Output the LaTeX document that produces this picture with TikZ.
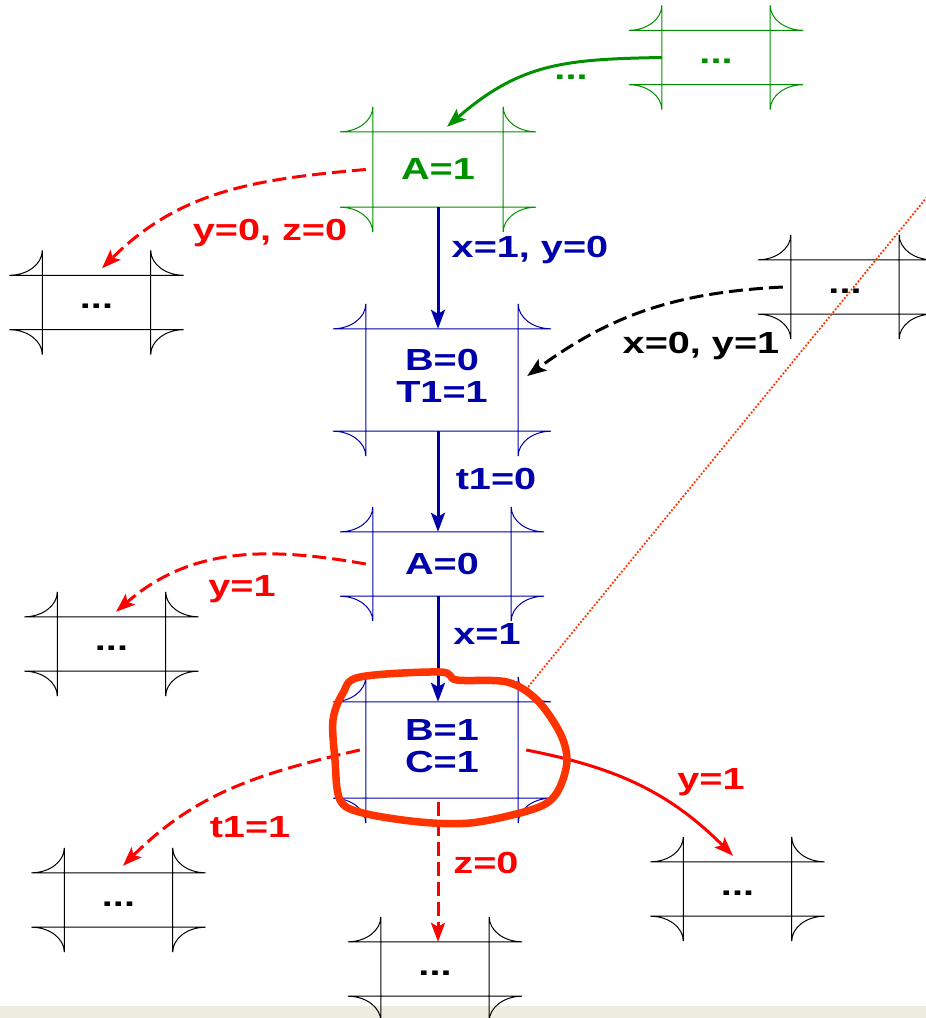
\documentclass[tikz,border=0pt]{standalone}
\usepackage{fontspec}
\setmainfont{Liberation Sans}
\usepackage{graphicx}
\usetikzlibrary{arrows.meta}
\definecolor{dgreen}{RGB}{0,145,0}
\definecolor{dblue}{RGB}{0,0,170}
\definecolor{dred}{RGB}{255,0,0}
\definecolor{ored}{RGB}{255,51,0}
\definecolor{bandcol}{RGB}{238,236,225}
\newcommand\hstretch[1]{\scalebox{1.3}[1]{#1}}
\newcommand\labfont{\fontsize{30.5}{32}\selectfont\bfseries}
\def\ex{33pt}\def\ey{25pt}\def\exc{14.8pt}\def\eyc{11.2pt}
\newcommand\cellframe[2]{%
  \draw[cellline,#2]
    ([xshift=-\ex]#1.north west) -- ([xshift=\ex]#1.north east)
    ([xshift=-\ex]#1.south west) -- ([xshift=\ex]#1.south east)
    ([yshift=\ey]#1.north west) -- ([yshift=-\ey]#1.south west)
    ([yshift=\ey]#1.north east) -- ([yshift=-\ey]#1.south east)
    ([xshift=-\ex]#1.north west) .. controls ([xshift=-\exc]#1.north west) and ([yshift=\eyc]#1.north west) .. ([yshift=\ey]#1.north west)
    ([xshift=\ex]#1.north east) .. controls ([xshift=\exc]#1.north east) and ([yshift=\eyc]#1.north east) .. ([yshift=\ey]#1.north east)
    ([xshift=-\ex]#1.south west) .. controls ([xshift=-\exc]#1.south west) and ([yshift=-\eyc]#1.south west) .. ([yshift=-\ey]#1.south west)
    ([xshift=\ex]#1.south east) .. controls ([xshift=\exc]#1.south east) and ([yshift=-\eyc]#1.south east) .. ([yshift=-\ey]#1.south east);
}
\begin{document}
\begin{tikzpicture}[x=1pt,y=1pt,
  cell/.style={rectangle,inner sep=0pt,font=\labfont},
  small/.style={cell,minimum width=108pt,minimum height=54pt},
  cellline/.style={line width=1pt},
  conn/.style={line width=3pt,-{Stealth[length=19pt,width=14pt,inset=4pt]}},
  dconn/.style={conn,dash pattern=on 14pt off 6pt},
  lbl/.style={inner sep=0pt,font=\labfont,text height=22pt,text depth=0pt},
  dots/.style={inner sep=0pt,font=\labfont}]
\useasboundingbox (0,0) rectangle (926,-1018);
\clip (0,0) rectangle (926,-1018);
\fill[white] (0,0) rectangle (926,-1018);
\fill[bandcol] (0,-1006) rectangle (926,-1018);
\coordinate (axis) at (438,0);

% boxes
\node[cell,minimum width=130pt,minimum height=75pt,text=dgreen] (A1) at (438,-169.5) {\hstretch{A=1}};
\node[small,text=dgreen] (G) at (716,-57.5) {\hstretch{\strut...}};
\node[small] (L1) at (96.5,-302.5) {\hstretch{\strut...}};
\node[cell,minimum width=152pt,minimum height=102pt,text=dblue] (B0) at (442,-380) {\hstretch{\begin{tabular}{@{}c@{}}B=0\\T1=1\end{tabular}}};
\node[small] (R1) at (845,-287) {\hstretch{\strut...}};
\node[cell,minimum width=138pt,minimum height=64pt,text=dblue] (A0) at (442,-564) {\hstretch{A=0}};
\node[small] (L2) at (111.5,-644) {\hstretch{\strut...}};
\node[cell,minimum width=152pt,minimum height=96pt,text=dblue] (B1) at (442,-750) {\hstretch{\begin{tabular}{@{}c@{}}B=1\\C=1\end{tabular}}};
\node[small] (L3) at (118.5,-900) {\hstretch{\strut...}};
\node[small] (Rb) at (737.5,-889) {\hstretch{\strut...}};
\node[small] (Bt) at (435,-969) {\hstretch{\strut...}};

\cellframe{A1}{dgreen}
\cellframe{G}{dgreen}
\cellframe{L1}{black}
\cellframe{B0}{dblue}
\cellframe{R1}{black}
\cellframe{A0}{dblue}
\cellframe{L2}{black}
\cellframe{B1}{dblue}
\cellframe{L3}{black}
\cellframe{Rb}{black}
\cellframe{Bt}{black}

% connectors
\draw[conn,dgreen] (G.west) to[out=181,in=41,looseness=1.1] ([xshift=9pt,yshift=5pt]A1.north);
\draw[dconn,dred] ([xshift=-7pt]A1.west) to[out=185,in=45] ([xshift=5.5pt,yshift=7pt]L1.north);
\draw[conn,dblue] (A1.south -| axis) -- (B0.north -| axis);
\draw[dconn,black] ([xshift=-8pt]R1.west) to[out=183,in=36] ([xshift=9pt,yshift=4pt]B0.east);
\draw[conn,dblue] (B0.south -| axis) -- (A0.north -| axis);
\draw[dconn,dred] ([xshift=-7pt]A0.west) to[out=170,in=41] ([xshift=4.5pt,yshift=5pt]L2.north);
\draw[conn,dblue] (A0.south -| axis) -- (B1.north -| axis);
\draw[dconn,dred] ([xshift=-6pt]B1.west) to[out=193,in=45] ([xshift=4.5pt,yshift=7pt]L3.north);
\draw[conn,dred] ([xshift=8pt]B1.east) to[out=-11,in=135] ([xshift=-4.5pt,yshift=6pt]Rb.north);
\draw[dconn,dred] ([yshift=-4pt]B1.south -| axis) -- (Bt.north -| axis);

% edge labels
\node[dots,text=dgreen] (lg) at (571,-77) {\hstretch{...}};
\node[lbl,text=dred] (l1) at (270,-229) {\hstretch{y=0, z=0}};
\node[lbl,text=dblue] (l2) at (530,-246) {\hstretch{x=1, y=0}};
\node[lbl,text=black] (l3) at (701,-342) {\hstretch{x=0, y=1}};
\node[lbl,text=dblue] (l4) at (496,-478) {\hstretch{t1=0}};
\node[lbl,text=dred] (l5) at (242,-585) {\hstretch{y=1}};
\node[lbl,text=dblue] (l6) at (487,-633) {\hstretch{x=1}};
\node[lbl,text=dred] (l7) at (711,-778) {\hstretch{y=1}};
\node[lbl,text=dred] (l8) at (250,-826) {\hstretch{t1=1}};
\node[lbl,text=dred] (l9) at (486,-862) {\hstretch{z=0}};

% dotted pointer
\coordinate (dp1) at ([xshift=10pt,yshift=15pt]B1.north east);
\coordinate (dp2) at (936,-186);
\draw[ored,line width=1.8pt,dash pattern=on 1.8pt off 1.8pt] (dp1) -- (dp2);

% hand-drawn highlight
\draw[ored,line width=7.5pt,line join=round] plot[smooth cycle,tension=0.55] coordinates {
 (360,-677) (440,-672) (457,-680) (507,-682) (537,-700) (560,-733) (567,-760)
 (560,-787) (547,-803) (520,-813) (470,-823) (420,-822) (363,-813) (340,-800)
 (335,-760) (333,-720) (343,-693)};
\end{tikzpicture}
\end{document}
